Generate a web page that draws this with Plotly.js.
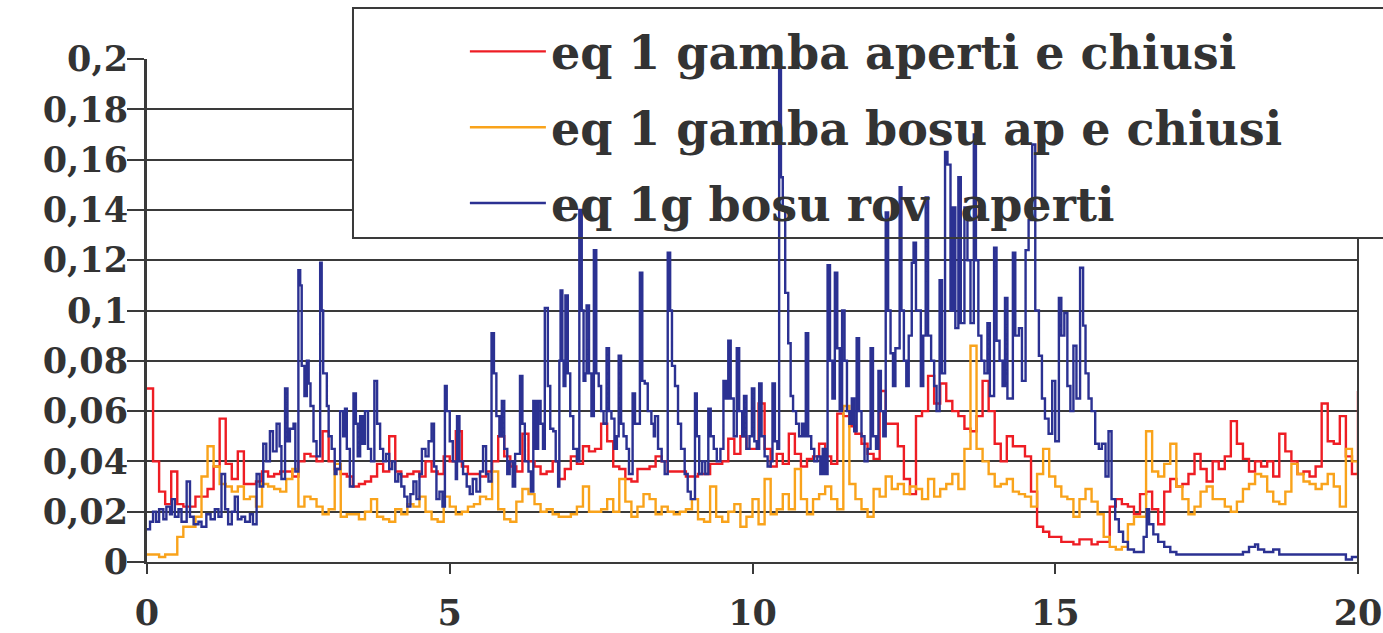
<!DOCTYPE html>
<html>
<head>
<meta charset="utf-8">
<script src="https://cdn.plot.ly/plotly-3.0.1.min.js"></script>
<style>html,body{margin:0;padding:0;background:#fff;}#chart{width:1383px;height:633px;}</style>
</head>
<body>
<div id="chart"></div>
<script>
// Common x grid (seconds) for the red and orange series
var xGrid = [];
for (var i = 0; i <= 200; i++) xGrid.push(+(i / 10).toFixed(1));

var seriesNames = ["eq 1 gamba aperti e chiusi", "eq 1 gamba bosu ap e chiusi", "eq 1g bosu rov  aperti"];

var redY = [0.069,0.040,0.028,0.023,0.036,0.023,0.022,0.022,0.026,0.026,
0.029,0.038,0.057,0.039,0.033,0.044,0.031,0.031,0.032,0.036,
0.034,0.035,0.036,0.036,0.034,0.040,0.043,0.042,0.040,0.052,
0.040,0.037,0.035,0.034,0.030,0.031,0.032,0.034,0.039,0.036,
0.050,0.036,0.034,0.035,0.036,0.034,0.040,0.036,0.035,0.042,
0.040,0.052,0.038,0.035,0.035,0.034,0.036,0.040,0.050,0.042,
0.038,0.036,0.051,0.040,0.038,0.035,0.036,0.040,0.033,0.037,
0.042,0.039,0.046,0.044,0.045,0.055,0.048,0.038,0.037,0.033,
0.032,0.037,0.037,0.038,0.042,0.040,0.036,0.036,0.036,0.034,
0.034,0.035,0.035,0.039,0.039,0.040,0.049,0.043,0.050,0.045,
0.045,0.063,0.045,0.038,0.043,0.039,0.051,0.043,0.038,0.041,
0.042,0.047,0.042,0.039,0.059,0.058,0.054,0.051,0.047,0.043,
0.041,0.068,0.055,0.055,0.046,0.033,0.027,0.058,0.060,0.074,
0.063,0.071,0.064,0.060,0.058,0.053,0.052,0.058,0.072,0.060,
0.047,0.040,0.050,0.046,0.046,0.042,0.028,0.014,0.012,0.010,
0.010,0.008,0.008,0.007,0.009,0.009,0.007,0.008,0.008,0.022,
0.025,0.023,0.022,0.019,0.027,0.028,0.021,0.015,0.028,0.033,
0.030,0.031,0.035,0.043,0.037,0.032,0.040,0.037,0.042,0.056,
0.047,0.041,0.036,0.040,0.038,0.040,0.034,0.051,0.044,0.040,
0.035,0.036,0.034,0.038,0.063,0.048,0.047,0.058,0.042,0.035,
0.068];

var orangeY = [0.003,0.003,0.002,0.003,0.003,0.010,0.014,0.014,0.018,0.034,
0.046,0.038,0.031,0.030,0.028,0.030,0.025,0.026,0.022,0.031,
0.030,0.029,0.028,0.033,0.037,0.022,0.026,0.025,0.022,0.019,
0.021,0.039,0.018,0.019,0.019,0.017,0.020,0.025,0.018,0.017,
0.016,0.021,0.019,0.023,0.022,0.026,0.020,0.017,0.016,0.026,
0.022,0.019,0.020,0.022,0.023,0.026,0.025,0.036,0.021,0.017,
0.016,0.024,0.029,0.027,0.023,0.020,0.021,0.019,0.018,0.018,
0.019,0.022,0.030,0.020,0.020,0.021,0.025,0.020,0.033,0.024,
0.018,0.022,0.027,0.025,0.019,0.022,0.020,0.019,0.020,0.021,
0.025,0.017,0.016,0.030,0.018,0.016,0.020,0.023,0.014,0.018,
0.025,0.015,0.033,0.019,0.021,0.027,0.021,0.037,0.025,0.019,
0.025,0.027,0.030,0.025,0.021,0.062,0.031,0.025,0.021,0.018,
0.029,0.026,0.034,0.029,0.031,0.027,0.030,0.029,0.025,0.033,
0.026,0.029,0.031,0.035,0.029,0.045,0.086,0.045,0.040,0.035,
0.030,0.031,0.033,0.028,0.027,0.026,0.022,0.035,0.045,0.034,
0.030,0.026,0.025,0.018,0.025,0.029,0.024,0.019,0.010,0.006,
0.005,0.006,0.015,0.018,0.018,0.052,0.036,0.034,0.039,0.047,
0.030,0.025,0.019,0.022,0.028,0.030,0.025,0.025,0.022,0.020,
0.024,0.029,0.031,0.035,0.034,0.028,0.024,0.023,0.028,0.039,
0.035,0.032,0.031,0.029,0.031,0.035,0.030,0.022,0.045,0.040,
0.033];

var blueX = [0,0.05,0.1,0.15,0.2,0.27,0.32,0.38,0.41,0.46,0.52,0.57,0.655,0.71,0.77,0.85,0.9,0.98,
1.05,1.12,1.18,1.23,1.29,1.34,1.4,1.45,1.5,1.56,1.62,1.7,1.75,1.81,1.86,1.92,1.97,
2.03,2.08,2.14,2.19,2.22,2.28,2.32,2.36,2.42,2.45,2.5,2.53,2.555,2.6,2.64,2.67,2.7,2.75,2.8,2.86,2.885,2.91,2.97,
3.0,3.05,3.1,3.13,3.19,3.24,3.27,3.3,3.35,3.41,3.45,3.48,3.52,3.56,3.6,3.65,3.7,3.755,3.8,3.85,3.9,3.95,
4.0,4.05,4.1,4.15,4.2,4.25,4.3,4.35,4.4,4.45,4.5,4.54,4.6,4.65,4.7,4.74,4.78,4.83,4.88,4.92,4.95,
5.0,5.05,5.1,5.12,5.16,5.22,5.28,5.33,5.38,5.44,5.5,5.55,5.6,5.64,5.69,5.73,5.77,5.82,5.86,5.9,5.95,5.99,
6.04,6.08,6.16,6.2,6.24,6.3,6.34,6.38,6.42,6.46,6.5,6.54,6.57,6.62,6.66,6.71,6.75,6.79,6.81,6.83,6.86,6.88,6.91,6.95,6.99,
7.04,7.1,7.14,7.18,7.21,7.24,7.26,7.3,7.34,7.38,7.42,7.46,7.5,7.54,7.59,7.63,7.67,7.72,7.76,7.79,7.83,7.87,7.92,7.96,
8.02,8.06,8.14,8.18,8.22,8.27,8.33,8.37,8.39,8.44,8.5,8.55,8.6,8.64,8.67,8.72,8.77,8.82,8.88,8.93,8.98,
9.05,9.08,9.12,9.17,9.22,9.27,9.31,9.36,9.41,9.47,9.52,9.56,9.6,9.64,9.69,9.74,9.78,9.83,9.86,9.9,9.95,9.99,
10.03,10.07,10.11,10.15,10.2,10.25,10.3,10.33,10.37,10.41,10.44,10.47,10.5,10.54,10.59,10.63,10.67,10.72,10.77,10.82,10.86,10.88,10.92,10.97,
11.02,11.07,11.12,11.16,11.2,11.24,11.28,11.32,11.36,11.4,11.44,11.48,11.52,11.56,11.6,11.64,11.68,11.72,11.76,11.8,11.85,11.9,11.95,11.99,
12.04,12.08,12.12,12.16,12.2,12.24,12.28,12.32,12.36,12.43,12.46,12.5,12.54,12.58,12.63,12.66,12.7,12.74,12.78,12.82,12.86,12.9,12.95,
13.0,13.04,13.09,13.13,13.18,13.22,13.27,13.31,13.35,13.4,13.44,13.5,13.55,13.6,13.655,13.69,13.73,13.78,13.83,13.88,13.92,13.99,
14.03,14.08,14.13,14.17,14.21,14.3,14.34,14.4,14.45,14.51,14.56,14.62,14.67,14.73,14.78,14.83,14.89,14.95,
15.0,15.06,15.1,15.15,15.2,15.25,15.3,15.35,15.41,15.46,15.5,15.55,15.6,15.66,15.72,15.77,15.83,15.88,15.93,15.99,
16.05,16.12,16.2,16.3,16.4,16.46,16.51,16.55,16.62,16.7,16.8,16.9,17.0,17.3,17.6,17.9,
18.1,18.2,18.3,18.35,18.45,18.6,18.7,19.0,19.3,19.5,19.7,19.8,19.9,20.0];

var blueY = [0.013,0.016,0.020,0.016,0.021,0.017,0.022,0.019,0.025,0.018,0.021,0.016,0.032,0.018,0.015,0.016,0.014,0.019,
0.017,0.021,0.018,0.035,0.021,0.015,0.020,0.026,0.017,0.018,0.016,0.019,0.015,0.035,0.030,0.047,0.040,
0.052,0.044,0.055,0.046,0.033,0.069,0.048,0.053,0.055,0.036,0.116,0.110,0.078,0.066,0.080,0.071,0.062,0.048,0.042,0.119,0.100,0.075,0.062,
0.050,0.045,0.035,0.037,0.060,0.050,0.061,0.045,0.030,0.067,0.055,0.042,0.058,0.047,0.060,0.045,0.040,0.072,0.055,0.045,0.040,0.043,
0.037,0.040,0.032,0.035,0.030,0.026,0.022,0.027,0.032,0.025,0.035,0.045,0.042,0.048,0.055,0.038,0.025,0.028,0.022,0.070,0.060,
0.048,0.040,0.033,0.058,0.040,0.035,0.030,0.027,0.033,0.028,0.036,0.046,0.035,0.032,0.091,0.075,0.058,0.050,0.064,0.045,0.035,0.040,
0.030,0.043,0.074,0.055,0.040,0.036,0.028,0.064,0.045,0.064,0.055,0.045,0.101,0.070,0.053,0.052,0.040,0.030,0.080,0.108,0.080,0.070,0.106,0.075,0.058,
0.045,0.040,0.140,0.100,0.072,0.075,0.102,0.075,0.058,0.124,0.075,0.070,0.060,0.055,0.085,0.060,0.057,0.045,0.050,0.082,0.055,0.050,0.045,0.035,
0.067,0.055,0.115,0.072,0.071,0.060,0.055,0.050,0.058,0.045,0.040,0.035,0.123,0.100,0.078,0.070,0.055,0.045,0.035,0.028,0.025,
0.067,0.050,0.035,0.040,0.035,0.061,0.050,0.045,0.040,0.045,0.072,0.065,0.088,0.065,0.050,0.085,0.060,0.050,0.066,0.045,0.050,0.069,
0.048,0.045,0.071,0.050,0.042,0.038,0.040,0.071,0.048,0.045,0.197,0.153,0.140,0.107,0.087,0.066,0.060,0.055,0.050,0.055,0.050,0.091,0.050,0.045,
0.040,0.042,0.035,0.045,0.035,0.118,0.080,0.065,0.115,0.085,0.060,0.100,0.080,0.060,0.055,0.065,0.052,0.089,0.060,0.050,0.040,0.045,0.085,0.050,
0.045,0.076,0.060,0.050,0.139,0.100,0.083,0.070,0.085,0.149,0.100,0.080,0.070,0.090,0.119,0.127,0.100,0.100,0.070,0.090,0.145,0.090,0.080,
0.070,0.060,0.112,0.075,0.163,0.158,0.100,0.141,0.093,0.153,0.095,0.141,0.120,0.095,0.170,0.120,0.090,0.080,0.075,0.095,0.066,0.125,
0.088,0.080,0.070,0.105,0.065,0.123,0.090,0.093,0.072,0.124,0.136,0.166,0.100,0.082,0.065,0.057,0.051,0.072,
0.048,0.105,0.090,0.099,0.070,0.060,0.086,0.065,0.117,0.094,0.075,0.065,0.060,0.047,0.045,0.047,0.034,0.052,0.025,0.017,
0.012,0.008,0.005,0.004,0.004,0.010,0.021,0.015,0.011,0.008,0.006,0.004,0.003,0.003,0.003,0.003,
0.004,0.006,0.007,0.005,0.004,0.005,0.003,0.003,0.003,0.003,0.003,0.001,0.002,0.002];

var xTickVals = [0, 5, 10, 15, 20];
var yTickVals = [0, 0.02, 0.04, 0.06, 0.08, 0.1, 0.12, 0.14, 0.16, 0.18, 0.2];
var yTickText = ["0", "0,02", "0,04", "0,06", "0,08", "0,1", "0,12", "0,14", "0,16", "0,18", "0,2"];

var colors = ["#ee1d24", "#f9a31b", "#2b3192"];
var axisColor = "#3a3a3a";
var tickFont = {family: "DejaVu Serif", size: 35, color: "#333333", weight: "bold"};

var traces = [
  {x: xGrid, y: redY, name: seriesNames[0], legendgroup: "a"},
  {x: xGrid, y: orangeY, name: seriesNames[1], legendgroup: "b"},
  {x: blueX, y: blueY, name: seriesNames[2], legendgroup: "c"}
].map(function (t, k) {
  t.type = "scatter";
  t.mode = "lines";
  t.line = {color: colors[k], width: 2.4, shape: "hv"};
  t.hoverinfo = "skip";
  return t;
});

var layout = {
  width: 1383,
  height: 633,
  margin: {l: 147, r: 25, t: 59, b: 71, pad: 0},
  paper_bgcolor: "#ffffff",
  plot_bgcolor: "#ffffff",
  showlegend: true,
  legend: {
    x: 0.2625, y: 1.0875, xanchor: "left", yanchor: "top",
    bgcolor: "rgba(0,0,0,0)", borderwidth: 0,
    font: {family: "DejaVu Serif", size: 46, color: "#333333", weight: "bold"},
    itemwidth: 76,
    traceorder: "grouped",
    tracegroupgap: 13
  },
  xaxis: {
    range: [0, 20],
    tickmode: "array", tickvals: xTickVals,
    showgrid: false, zeroline: false,
    showline: true, linecolor: axisColor, linewidth: 2,
    ticks: "outside", ticklen: 10, tickwidth: 2, tickcolor: axisColor,
    tickfont: tickFont,
    ticklabelstandoff: 9
  },
  yaxis: {
    range: [0, 0.2],
    tickmode: "array", tickvals: yTickVals, ticktext: yTickText,
    showgrid: true, gridcolor: axisColor, gridwidth: 2,
    zeroline: false,
    showline: true, linecolor: axisColor, linewidth: 3,
    ticks: "outside", ticklen: 17, tickwidth: 2, tickcolor: axisColor,
    tickfont: tickFont,
    ticklabelstandoff: -8
  },
  shapes: [
    // white legend-box background hiding the gridlines (below the data)
    {type: "rect", xref: "x", yref: "y", layer: "between",
     x0: 3.402, x1: 20.5, y0: 0.1288, y1: 0.21,
     fillcolor: "#ffffff", line: {width: 0}},
    // right border of the plot area, below the legend box
    {type: "line", xref: "paper", yref: "paper", layer: "above",
     x0: 1, x1: 1, y0: -0.02, y1: 0.6441,
     line: {color: axisColor, width: 2}},
    // legend box outline
    {type: "rect", xref: "paper", yref: "paper", layer: "above",
     x0: 0.1701, x1: 1.04, y0: 0.6441, y1: 1.1014,
     fillcolor: "rgba(0,0,0,0)", line: {color: axisColor, width: 2}}
  ]
};

Plotly.newPlot("chart", traces, layout, {displayModeBar: false, staticPlot: true});
</script>
</body>
</html>
